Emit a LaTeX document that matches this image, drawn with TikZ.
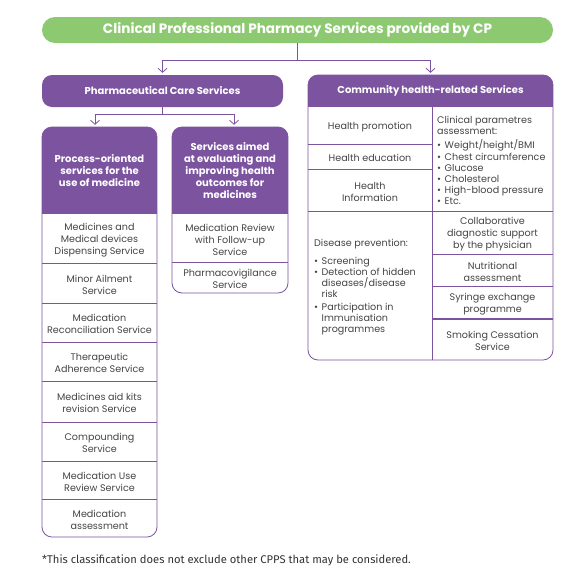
\documentclass[tikz,border=0pt]{standalone}
\usepackage{fontspec}
\setmainfont{Poppins}
\newfontfamily\notefont{Fira Sans}
\usetikzlibrary{arrows.meta,calc}
\definecolor{pur}{HTML}{7B539F}
\definecolor{grn}{HTML}{8DC971}
\definecolor{txt}{HTML}{454545}
\definecolor{notec}{HTML}{333333}
\newcommand\titlefont{\bfseries\fontsize{13.6}{16}\selectfont}
\newcommand\hdrfont{\bfseries\fontsize{10}{12}\selectfont}
\newcommand\bodyfont{\fontsize{9.6}{12}\selectfont}
\newcommand\lstfont{\fontsize{9.6}{11.2}\selectfont}
\newcommand\bitem[1]{\makebox[7.5pt][l]{\textbullet}#1}
\newcommand\bcont[1]{\hspace*{7.5pt}#1}
\begin{document}
\begin{tikzpicture}[x=1pt,y=-1pt,
  line/.style={draw=pur, line width=0.8pt},
  arr/.style={draw=pur, line width=0.8pt, -{Straight Barb[length=4pt,width=9pt]}, shorten >=2pt},
  hdr/.style={text=white, font=\hdrfont, align=center, inner sep=0pt},
  cell/.style={text=txt, font=\bodyfont, align=center, inner sep=0pt, yshift=-1.5pt},
  lst/.style={text=txt, font=\lstfont, align=left, inner sep=0pt, anchor=west, yshift=-1.5pt},
]
\useasboundingbox (0,0) rectangle (580,576);
\fill[white] (0,0) rectangle (580,576);

% top level
\node[fill=grn, rounded corners=13pt, minimum width=511pt, minimum height=26pt,
      text=white, font=\titlefont] (title) at (297.5,30) {Clinical Professional Pharmacy Services provided by CP};
\node[fill=pur, rounded corners=10pt, minimum width=241pt, minimum height=32pt, hdr]
      (pcs) at (162.5,91) {Pharmaceutical Care Services};

% box fills
\begin{scope}
  \clip[rounded corners=10pt] (42,127) rectangle (157,537);
  \fill[pur] (42,127) rectangle (157,214);
\end{scope}
\begin{scope}
  \clip[rounded corners=10pt] (172,127) rectangle (288,293);
  \fill[pur] (172,127) rectangle (288,214);
\end{scope}
\begin{scope}
  \clip[rounded corners=10pt] (308,75) rectangle (553,360);
  \fill[pur] (308,75) rectangle (553,107);
\end{scope}

% header nodes
\node[hdr, minimum width=115pt, minimum height=87pt] (por) at (99.5,170.5)
  {Process-oriented\\services for the\\use of medicine};
\node[hdr, minimum width=116pt, minimum height=87pt] (sae) at (230,170.5)
  {Services aimed\\at evaluating and\\improving health\\outcomes for\\medicines};
\node[hdr, minimum width=245pt, minimum height=32pt] (chs) at (430.5,91)
  {Community health-related Services};

% outlines
\draw[line, rounded corners=10pt] (42,127) rectangle (157,537);
\draw[line, rounded corners=10pt] (172,127) rectangle (288,293);
\draw[line, rounded corners=10pt] (308,75) rectangle (553,360);

% dividers left column
\foreach \yy in {263,303,342,381,422,461,499} \draw[line] (42,\yy) -- (157,\yy);
\draw[line] (172,262) -- (288,262);
% community dividers
\draw[line] (432,107) -- (432,360);
\foreach \yy in {144,169} \draw[line] (308,\yy) -- (432,\yy);
\draw[line] (308,211) -- (553,211);
\foreach \yy in {254,286} \draw[line] (432,\yy) -- (553,\yy);
\draw[pur, line width=1.4pt] (432,319) -- (553,319);

% connectors
\coordinate (j1) at ($(title.south)+(0,17)$);
\draw[line] (title.south) -- (j1);
\draw[arr] (j1) -| (pcs.north);
\draw[arr] (j1) -| (chs.north);
\coordinate (j2) at ($(pcs.south)+(0,7)$);
\draw[line] (pcs.south) -- (j2);
\draw[arr] (j2) -| ($(por.north)+(-4.5,0)$);
\draw[arr] (j2) -| ($(sae.north)+(4,0)$);

% left column cells
\node[cell] (c1) at (99.5,238.5) {Medicines and\\Medical devices\\Dispensing Service};
\node[cell] (c2) at (99.5,283) {Minor Ailment\\Service};
\node[cell] (c3) at (99.5,322.5) {Medication\\Reconciliation Service};
\node[cell] (c4) at (99.5,361.5) {Therapeutic\\Adherence Service};
\node[cell] (c5) at (99.5,401.5) {Medicines aid kits\\revision Service};
\node[cell] (c6) at (99.5,441.5) {Compounding\\Service};
\node[cell] (c7) at (99.5,480) {Medication Use\\Review Service};
\node[cell] (c8) at (99.5,518) {Medication\\assessment};

% middle cells
\node[cell] (m1) at (230,238) {Medication Review\\with Follow-up\\Service};
\node[cell] (m2) at (230,277.5) {Pharmacovigilance\\Service};

% community cells
\node[cell] (h1) at (370,125.5) {Health promotion};
\node[cell] (h2) at (370,156.5) {Health education};
\node[cell] (h3) at (370,190) {Health\\Information};
\node[lst] (cp) at (437,159) {Clinical parametres\\assessment:\\[3pt]%
  \bitem{Weight/height/BMI}\\\bitem{Chest circumference}\\\bitem{Glucose}\\%
  \bitem{Cholesterol}\\\bitem{High-blood pressure}\\\bitem{Etc.}};
\node[lst] (dp) at (314,286) {Disease prevention:\\[6pt]%
  \bitem{Screening}\\\bitem{Detection of hidden}\\\bcont{diseases/disease}\\\bcont{risk}\\[1.5pt]%
  \bitem{Participation in}\\\bcont{Immunisation}\\\bcont{programmes}};
\node[cell] (r1) at (492.5,232.5) {Collaborative\\diagnostic support\\by the physician};
\node[cell] (r2) at (492.5,270) {Nutritional\\assessment};
\node[cell] (r3) at (492.5,302.5) {Syringe exchange\\programme};
\node[cell] (r4) at (492.5,339.5) {Smoking Cessation\\Service};

% footnote
\node[anchor=west, text=notec, font=\notefont\fontsize{11.2}{13}\selectfont, inner sep=0pt]
  (note) at (42,560) {*This classification does not exclude other CPPS that may be considered.};
\end{tikzpicture}
\end{document}
